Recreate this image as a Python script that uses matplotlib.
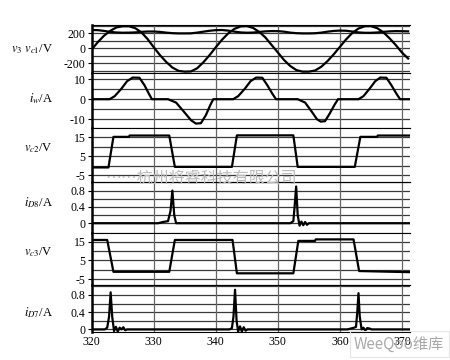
import matplotlib
matplotlib.use("Agg")
import matplotlib.pyplot as plt

plt.rcParams['font.family'] = ['Liberation Serif', 'DejaVu Serif']
plt.rcParams['mathtext.fontset'] = 'stix'

# --------------------------
# Datos (t en ms)
# --------------------------
t_v3 = list(range(320, 372))
v3 = [-20, 80, 165, 230, 275, 290, 290, 265, 210, 120,
      10, -95, -185, -260, -305, -315, -312, -270, -190, -95,
      10, 110, 195, 255, 288, 292, 268, 215, 140, 40,
      -60, -160, -240, -295, -315, -315, -300, -250, -175, -85,
      15, 115, 200, 260, 290, 292, 265, 210, 130, 40,
      -60, -140]
vc1 = [240, 238, 228, 215, 207, 204, 205, 208, 215, 220,
       220, 215, 205, 198, 195, 195, 196, 205, 218, 230,
       238, 240, 232, 218, 208, 204, 206, 214, 222, 226,
       225, 218, 205, 198, 195, 195, 197, 205, 218, 228,
       232, 230, 220, 208, 203, 203, 207, 215, 222, 225,
       224, 222]

t_iw = [319.6, 320.2,
        322.9, 323.7, 324.8, 325.7, 326.6, 327.7, 328.5, 329.2, 329.7,
        332.3, 333.6, 334.9, 336.0, 336.8, 337.6, 338.4, 339.1, 339.6,
        342.8, 343.6, 344.7, 345.6, 346.5, 347.5, 348.3, 349.1, 349.7,
        353.2, 354.4, 355.5, 356.3, 356.9, 357.6, 358.3, 359.1, 359.7,
        363.0, 363.8, 364.8, 365.7, 366.5, 367.5, 368.3, 369.1, 369.7,
        371.3]
iw = [-3, 0,
      0, 1.5, 5.3, 9, 10.8, 10.7, 7, 2.8, 0,
      0, -1.7, -6.4, -10.5, -12.2, -12, -8, -3, 0,
      0, 1.5, 5.3, 9, 10.8, 10.7, 7, 2.8, 0,
      0, -1.7, -6.4, -10, -11.2, -11, -7.5, -3, 0,
      0, 1.5, 5.3, 9, 10.8, 10.7, 7, 2.8, 0,
      0]

t_vc2 = [320, 322.7, 323.5, 326, 326.1, 332.5, 333.4, 342.6, 343.4, 352.5,
         353.2, 362.4, 363.3, 366, 366.1, 371.3]
vc2 = [-1, -1, 15.2, 15.2, 15.9, 15.9, -0.7, -0.7, 16, 16,
       -0.7, -0.7, 15.2, 15.2, 15.9, 15.9]

t_id8 = [320, 330.7, 331.5, 332.3, 332.7, 333.0, 333.3, 333.6, 352.0, 352.5,
         352.7, 352.95, 353.2, 353.5, 353.8, 354.1, 354.4, 354.7, 355.0, 371.3]
id8 = [0, 0, 0.03, 0.05, 0.3, 0.8, 0.2, 0, 0, 0.05,
       0.4, 0.9, 0.2, -0.06, 0.04, -0.05, 0.03, -0.04, 0, 0]

t_vc3 = [320, 322.5, 323.5, 332.5, 333.4, 342.7, 343.4, 352.5, 353.3, 356,
         356.1, 362.2, 363.1, 371.3]
vc3 = [15.9, 15.9, -1, -1, 15.9, 15.9, -1.8, -1.8, 15.4, 15.4,
       16.2, 16.2, -0.6, -1.2]

t_id7 = [320, 322.1, 322.5, 322.8, 323.05, 323.3, 323.6, 323.9, 324.2, 324.5,
         324.8, 325.1, 325.4, 325.7, 342.2, 342.6, 342.85, 343.1, 343.35, 343.6,
         343.9, 344.2, 344.5, 344.8, 345.1, 361.2, 362.3, 362.6, 362.8, 363.0,
         363.2, 363.5, 363.8, 364.1, 364.4, 364.8, 365.1, 371.3]
id7 = [0, 0, 0.04, 0.3, 0.86, 0.3, -0.04, 0.06, -0.05, 0.04,
       0.0, 0.05, -0.02, 0, 0, 0.03, 0.3, 0.92, 0.2, -0.05,
       0.07, -0.05, 0.05, -0.03, 0, 0, 0.04, 0.06, 0.4, 0.84,
       0.3, 0.0, 0.04, -0.03, 0.03, 0.02, 0, 0]

x_ticks = [320, 330, 340, 350, 360, 370]

# etiquetas, límites, ticks con número y líneas de rejilla de cada panel
paneles = [
    (r"$v_3\ v_{c1}$/V", (-333, 307), [-200, 0, 200], [-300, -200, -100, 0, 100, 200, 300]),
    (r"$i_w$/A", (-14.4, 13.1), [-10, 0, 10], [-10, -5, 0, 5, 10]),
    (r"$v_{c2}$/V", (-8.7, 19.9), [-5, 5, 15], [-5, 0, 5, 10, 15]),
    (r"$i_{D8}$/A", (-0.24, 1.01), [0, 0.4, 0.8], [0, 0.2, 0.4, 0.6, 0.8, 1.0]),
    (r"$v_{c3}$/V", (-8.0, 19.6), [-5, 5, 15], [-5, 0, 5, 10, 15]),
    (r"$i_{D7}$/A", (-0.06, 1.03), [0, 0.4, 0.8], [0, 0.2, 0.4, 0.6, 0.8, 1.0]),
]
label_y = [49, 99, 148, 203, 252, 313]

fig, axes = plt.subplots(6, 1, figsize=(4.5, 3.6), dpi=100, sharex=True,
                         gridspec_kw=dict(height_ratios=[48, 55, 54, 51, 52, 47], hspace=0))
fig.subplots_adjust(left=0.2038, right=0.9111, top=0.9306, bottom=0.0778)

series = [
    [(t_v3, v3), (t_v3, vc1)],
    [(t_iw, iw)],
    [(t_vc2, vc2)],
    [(t_id8, id8)],
    [(t_vc3, vc3)],
    [(t_id7, id7)],
]

for ax, (lab, lim, ticks, grid), curvas, ly in zip(axes, paneles, series, label_y):
    for g in grid:
        ax.axhline(g, color='#3a3a3a', lw=0.9, zorder=1)
    for xt in x_ticks[1:]:
        ax.axvline(xt, color='#666666', lw=0.9, zorder=1)
    for tt, yy in curvas:
        ax.plot(tt, yy, color='black', lw=1.6, solid_joinstyle='round', zorder=3)
    ax.set_ylim(*lim)
    ax.set_xlim(320, 371.3)
    ax.set_yticks(ticks)
    ax.set_yticklabels([f"{v:g}" for v in ticks])
    ax.set_xticks(x_ticks)
    ax.tick_params(axis='y', length=3, width=0.8, pad=1.5, labelsize=8.5)
    ax.tick_params(axis='x', length=0, labelsize=8.5, pad=3)
    ax.spines['right'].set_visible(False)
    ax.spines['left'].set_linewidth(1.8)
    ax.spines['top'].set_linewidth(0.8)
    ax.spines['bottom'].set_linewidth(0.8)
    fig.text(53 / 450, 1 - ly / 360, lab, ha='right', va='center', fontsize=9)

axes[-1].set_xticklabels([str(v) for v in x_ticks])

# marcas de agua
fig.text(105 / 450, 1 - 178 / 360, "……杭州将睿科技有限公司", color='#bbbbbb', fontsize=11.5,
         ha='left', va='center', family=['Noto Sans CJK SC', 'DejaVu Sans'])
fig.text(354 / 450, 1 - 344 / 360, "WeeQoo维库", color='#aaaaaa', fontsize=11,
         ha='left', va='center', family=['Noto Sans CJK SC', 'DejaVu Sans'],
         bbox=dict(facecolor='none', edgecolor='#e6e6e6', lw=0.8, pad=3))

fig.savefig("out.png", dpi=100)
